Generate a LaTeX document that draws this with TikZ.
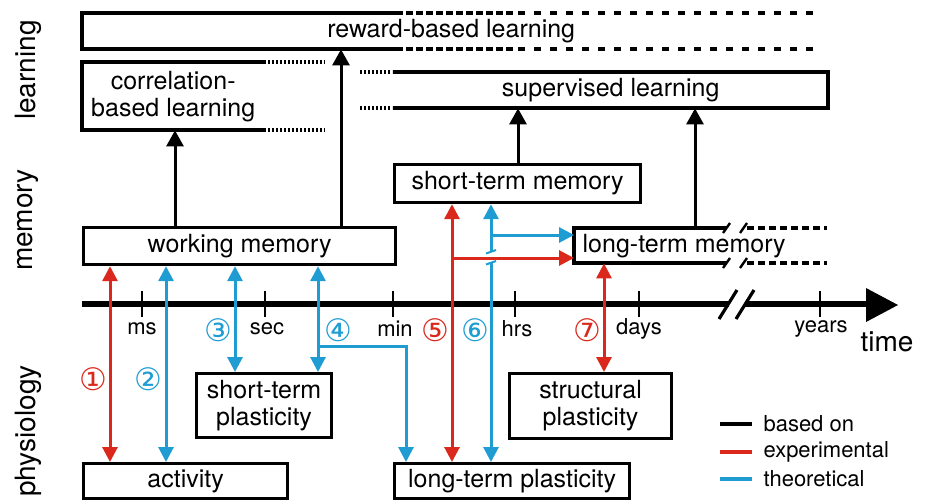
\documentclass[tikz,border=0pt]{standalone}
\usepackage{fontspec}
\setmainfont{TeX Gyre Heros}
\newfontfamily\circfont{DejaVu Sans}
\usetikzlibrary{arrows.meta}
\definecolor{myred}{RGB}{218,41,28}
\definecolor{myblue}{RGB}{31,157,210}
\begin{document}
\begin{tikzpicture}[x=1pt,y=-1pt,
  lbl/.style={font=\fontsize{25}{27}\selectfont},
  box/.style={draw,line width=3.2pt,inner sep=0pt,anchor=north west,align=center,lbl},
  obox/.style={inner sep=0pt,anchor=north west,align=center,lbl},
  edge/.style={line width=3.2pt},
  blk/.style={line width=3pt,-{Triangle[length=16pt,width=17pt]}},
  colr/.style={line width=3pt,{Triangle[length=15pt,width=15pt]}-{Triangle[length=15pt,width=15pt]}},
  col1/.style={line width=3pt,-{Triangle[length=15pt,width=15pt]}},
  tick/.style={font=\fontsize{22}{24}\selectfont},
  circ/.style={font=\circfont\fontsize{31}{33}\selectfont},
  side/.style={rotate=90,font=\fontsize{28}{30}\selectfont},
]
\useasboundingbox (0,0) rectangle (925,499);

% side labels
\node[side] (sl) at (28,70) {learning};
\node[side] (sm) at (28,220) {memory};
\node[side] (sp2) at (28,431) {physiology};

% open boxes (text nodes)
\node[obox,minimum width=738pt,minimum height=36pt] (rew) at (82,13) {reward-based learning};
\draw[edge] (396,13) -- (82,13) -- (82,49) -- (396,49);
\draw[edge,dash pattern=on 7pt off 3pt] (396,13) -- (515,13) (396,49) -- (515,49);
\draw[edge,dash pattern=on 7pt off 9pt] (518,13) -- (822,13) (518,49) -- (822,49);

\node[obox,minimum width=182pt,minimum height=68pt] (corr) at (82,62) {correlation-\\based learning};
\draw[edge] (264,62) -- (82,62) -- (82,130) -- (264,130);
\draw[edge,dash pattern=on 2pt off 2pt] (264,62) -- (325,62) (264,130) -- (325,130);

\node[obox,minimum width=435pt,minimum height=36pt] (sup) at (393,72) {supervised learning};
\draw[edge] (393,72) -- (828,72) -- (828,108) -- (393,108);
\draw[edge,dash pattern=on 2pt off 2pt] (360,72) -- (392,72) (360,108) -- (392,108);

\node[obox,minimum width=220pt,minimum height=35pt] (ltm) at (574,228) {long-term memory};
\draw[edge] (727,228) -- (574,228) -- (574,263) -- (727,263);
\draw[line width=2.4pt] (723,233) -- (730,223) (723,268) -- (730,258);
\draw[line width=2.4pt] (740,233) -- (747,223) (740,268) -- (747,258);
\draw[edge,dash pattern=on 7pt off 4pt] (747,228) -- (827,228) (747,263) -- (827,263);

% closed boxes
\node[box,minimum width=312pt,minimum height=37pt] (wm) at (82,226) {working memory};
\node[box,minimum width=246pt,minimum height=38pt] (stm) at (393,163) {short-term memory};
\node[box,minimum width=135pt,minimum height=64pt] (stp) at (195,372) {short-term\\plasticity};
\node[box,minimum width=204pt,minimum height=35pt] (act) at (82,462) {activity};
\node[box,minimum width=235pt,minimum height=35pt] (ltp) at (393,462) {long-term plasticity};
\node[box,minimum width=162pt,minimum height=65pt] (spl) at (508,372) {structural\\plasticity};

% time axis
\draw[line width=6.5pt] (82,304) -- (729,304);
\draw[line width=6.5pt] (745,304) -- (868,304);
\fill (866,288) -- (898,305) -- (866,322) -- cycle;
\draw[line width=3.2pt] (719,319) -- (737,290) (736,319) -- (754,290);
\foreach \x in {142,265,393,515,639,820} \draw[line width=2.8pt] (\x,291) -- (\x,317);
\node[tick] (tms) at (142,329) {ms};
\node[tick] (tsec) at (267,329) {sec};
\node[tick] (tmin) at (395,329) {min};
\node[tick] (thrs) at (517,329) {hrs};
\node[tick] (tdays) at (639,329) {days};
\node[tick] (tyrs) at (821,329) {years};
\node[font=\fontsize{28}{30}\selectfont] (ttime) at (887,342) {time};

% column coordinates
\foreach \n/\x in {c175/175,c341/341,c518/518,c695/695,c110/110,c166/166,c235/235,c318/318,c406/406,c453/452,c491/491,c604/604}
  \coordinate (\n) at (\x,0);

% black connectors
\draw[blk] (wm.north -| c175) -- (corr.south -| c175);
\draw[blk] (wm.north -| c341) -- (rew.south -| c341);
\draw[blk] (stm.north -| c518) -- (sup.south -| c518);
\draw[blk] (ltm.north -| c695) -- (sup.south -| c695);

% coloured connectors
\draw[colr,myred] (wm.south -| c110) -- (act.north -| c110);
\draw[colr,myblue] (wm.south -| c166) -- (act.north -| c166);
\draw[colr,myblue] (wm.south -| c235) -- (stp.north -| c235);
\draw[colr,myblue] (wm.south -| c318) -- (stp.north -| c318);
\coordinate (b4) at (318,346);
\draw[col1,myblue] (b4) -| (ltp.north -| c406);
\draw[colr,myred] (stm.south -| c453) -- (ltp.north -| c453);
\coordinate (b5) at (452,258);
\draw[col1,myred] (b5) -- (b5 -| ltm.west);
\coordinate (g1) at (491,252);
\coordinate (g2) at (491,263);
\draw[line width=3pt,myblue,{Triangle[length=15pt,width=15pt]}-] (stm.south -| c491) -- (g1);
\draw[line width=3pt,myblue,-{Triangle[length=15pt,width=15pt]}] (g2) -- (ltp.north -| c491);
\draw[line width=2pt,myblue] (486,253.5) -- (496,250) (486,264.5) -- (496,261);
\coordinate (b6) at (491,235);
\draw[col1,myblue] (b6) -- (b6 -| ltm.west);
\draw[colr,myred] (ltm.south -| c604) -- (spl.north -| c604);

% circled numbers
\node[circ,myred] (n1) at (93,379) {①};
\node[circ,myblue] (n2) at (148,379) {②};
\node[circ,myblue] (n3) at (218,330) {③};
\node[circ,myblue] (n4) at (338,330) {④};
\node[circ,myred] (n5) at (435,330) {⑤};
\node[circ,myblue] (n6) at (475,330) {⑥};
\node[circ,myred] (n7) at (587,330) {⑦};

% legend
\draw[line width=3.2pt] (720,424) -- (752,424);
\draw[line width=3.2pt,myred] (720,452) -- (752,452);
\draw[line width=3.2pt,myblue] (720,479) -- (752,479);
\node[tick,anchor=west] (lg1) at (760,424) {based on};
\node[tick,anchor=west] (lg2) at (760,452) {experimental};
\node[tick,anchor=west] (lg3) at (760,479) {theoretical};
\end{tikzpicture}
\end{document}
